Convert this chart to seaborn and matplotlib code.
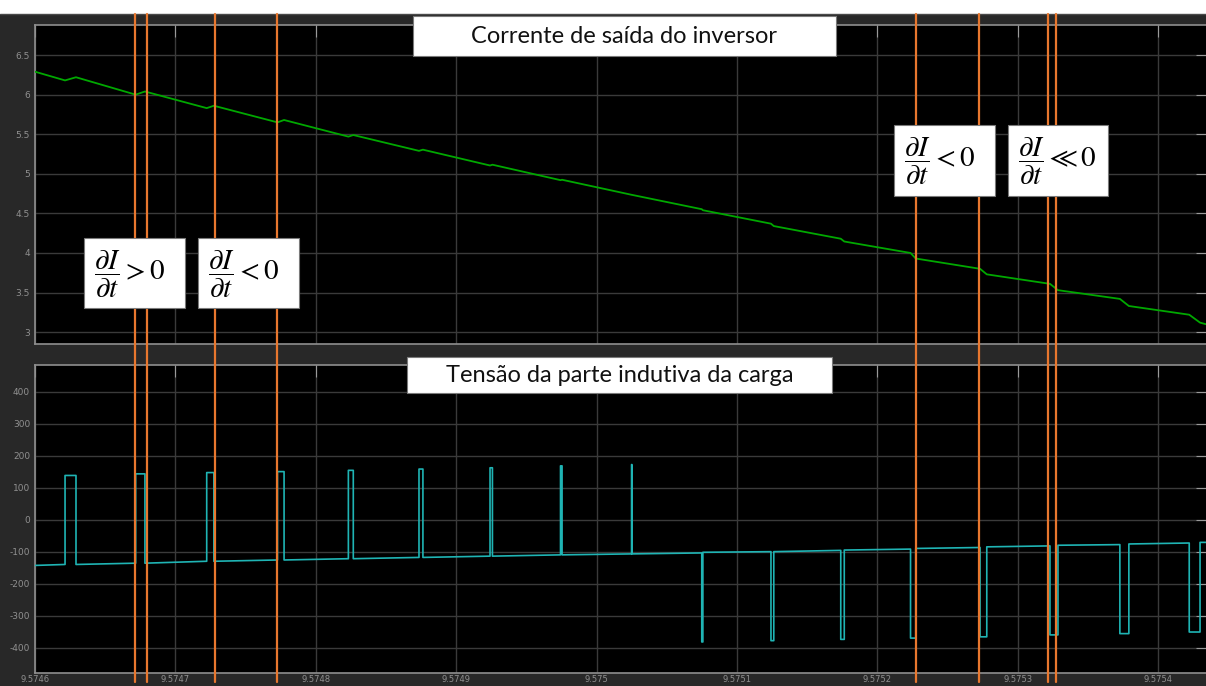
import matplotlib
matplotlib.use("Agg")
import matplotlib.pyplot as plt
import matplotlib.transforms as mtransforms
from matplotlib.patches import Rectangle
from matplotlib.lines import Line2D
import pandas as pd
import seaborn as sns

# ---------------- data ----------------
current_t = [9.5746000, 9.5746214, 9.5746292, 9.5746717, 9.5746783, 9.5747223, 9.5747274,
             9.5747727, 9.5747774, 9.5748232, 9.5748267, 9.5748735, 9.5748763, 9.5749241,
             9.5749258, 9.5749743, 9.5749754, 9.5750249, 9.5750749, 9.5750757, 9.5751242,
             9.5751262, 9.5751739, 9.5751764, 9.5752236, 9.5752273, 9.5752731, 9.5752779,
             9.5753229, 9.5753286, 9.5753727, 9.5753791, 9.5754221, 9.5754298, 9.5754340]
current_a = [6.29, 6.18, 6.22, 6.00, 6.04, 5.83, 5.86,
             5.65, 5.68, 5.47, 5.49, 5.29, 5.305, 5.105,
             5.115, 4.92, 4.925, 4.735, 4.553, 4.54, 4.37,
             4.34, 4.18, 4.145, 4.00, 3.93, 3.80, 3.73,
             3.61, 3.53, 3.42, 3.33, 3.22, 3.12, 3.10]

voltage_t = [9.5746000, 9.5746214, 9.5746214, 9.5746292, 9.5746292,
             9.5746717, 9.5746717, 9.5746783, 9.5746783,
             9.5747223, 9.5747223, 9.5747274, 9.5747274,
             9.5747727, 9.5747727, 9.5747774, 9.5747774,
             9.5748232, 9.5748232, 9.5748267, 9.5748267,
             9.5748735, 9.5748735, 9.5748763, 9.5748763,
             9.5749241, 9.5749241, 9.5749258, 9.5749258,
             9.5749743, 9.5749743, 9.5749754, 9.5749754,
             9.5750249, 9.5750249, 9.5750252, 9.5750252,
             9.5750749, 9.5750749, 9.5750757, 9.5750757,
             9.5751242, 9.5751242, 9.5751262, 9.5751262,
             9.5751739, 9.5751739, 9.5751764, 9.5751764,
             9.5752236, 9.5752236, 9.5752273, 9.5752273,
             9.5752731, 9.5752731, 9.5752779, 9.5752779,
             9.5753229, 9.5753229, 9.5753286, 9.5753286,
             9.5753727, 9.5753727, 9.5753791, 9.5753791,
             9.5754221, 9.5754221, 9.5754298, 9.5754298, 9.5754340]
voltage_v = [-143, -140, 138, 138, -140,
             -136, 143, 143, -136,
             -130, 147, 147, -130,
             -126, 150, 150, -126,
             -122, 154, 154, -122,
             -118, 158, 158, -118,
             -114, 162, 162, -114,
             -110, 168, 168, -110,
             -107, 172, 172, -107,
             -104, -382, -382, -102,
             -100, -378, -378, -100,
             -96, -374, -374, -95,
             -92, -370, -370, -90,
             -87, -366, -366, -85,
             -82, -360, -360, -80,
             -78, -356, -356, -76,
             -73, -351, -351, -71, -71]

marker_t = [9.5746712, 9.5746798, 9.5747282, 9.5747724,
            9.5752275, 9.5752724, 9.5753215, 9.5753272]

x_ticks = [9.5746, 9.5747, 9.5748, 9.5749, 9.5750, 9.5751, 9.5752, 9.5753, 9.5754]
x_tick_labels = ["9.5746", "9.5747", "9.5748", "9.5749", "9.575",
                 "9.5751", "9.5752", "9.5753", "9.5754"]
top_yticks = [3, 3.5, 4, 4.5, 5, 5.5, 6, 6.5]
top_ytick_labels = ["3", "3.5", "4", "4.5", "5", "5.5", "6", "6.5"]
bot_yticks = [-400, -300, -200, -100, 0, 100, 200, 300, 400]
bot_ytick_labels = ["-400", "-300", "-200", "-100", "0", "100", "200", "300", "400"]

top_title = "Corrente de saída do inversor"
bottom_title = "Tensão da parte indutiva da carga"
annotations = [r"$\dfrac{\partial I}{\partial t} > 0$",
               r"$\dfrac{\partial I}{\partial t} < 0$",
               r"$\dfrac{\partial I}{\partial t} < 0$",
               r"$\dfrac{\partial I}{\partial t} \ll 0$"]

# ---------------- style ----------------
sns.set_style("dark")
plt.rcParams["font.family"] = ["DejaVu Sans"]
plt.rcParams["axes.unicode_minus"] = False
plt.rcParams["mathtext.fontset"] = "stix"

W, H = 1206, 686
fig = plt.figure(figsize=(W / 100, H / 100), dpi=100, facecolor="#282828")

def fx(px):
    return px / W

def fy(py):
    return 1 - py / H

XMIN, XMAX = 9.5746, 9.57543547
ax_top = fig.add_axes([fx(35), fy(344), fx(1208) - fx(35), fy(25) - fy(344)])
ax_bot = fig.add_axes([fx(35), fy(673), fx(1208) - fx(35), fy(365) - fy(673)])

df_cur = pd.DataFrame({"t": current_t, "i": current_a})
df_vol = pd.DataFrame({"t": voltage_t, "v": voltage_v})
sns.lineplot(data=df_cur, x="t", y="i", ax=ax_top, sort=False, estimator=None,
             color="#00a800", linewidth=1.3, zorder=3)
sns.lineplot(data=df_vol, x="t", y="v", ax=ax_bot, sort=False, estimator=None,
             color="#1fb4b4", linewidth=1.2, zorder=3)

for ax, yt, ytl, ylim in [(ax_top, top_yticks, top_ytick_labels, (2.85, 6.88)),
                          (ax_bot, bot_yticks, bot_ytick_labels, (-479, 483))]:
    ax.set_facecolor("black")
    ax.set_xlim(XMIN, XMAX)
    ax.set_ylim(*ylim)
    ax.set_xticks(x_ticks)
    ax.set_yticks(yt)
    ax.set_yticklabels(ytl)
    ax.set_xlabel("")
    ax.set_ylabel("")
    ax.grid(True, color="#3a3a3a", linewidth=1.0)
    ax.set_axisbelow(True)
    for s in ax.spines.values():
        s.set_visible(True)
        s.set_color("#8f8f8f")
        s.set_linewidth(1.2)
    ax.tick_params(axis="both", which="both", direction="in", length=8.5, width=0.8,
                   color="#9a9a9a", labelcolor="#909090", labelsize=6.5,
                   top=True, right=True, pad=3.5)

ax_top.set_xticklabels([])
ax_bot.set_xticklabels(x_tick_labels)
ax_bot.tick_params(axis="x", pad=1.5, labelsize=6)

# white strip at top of the figure
fig.add_artist(Rectangle((0, fy(14)), 1, 1 - fy(14), transform=fig.transFigure,
                         facecolor="white", edgecolor="none", zorder=1))
fig.add_artist(Line2D([0, 1], [fy(14), fy(14)], transform=fig.transFigure,
                      color="#4a4a4a", linewidth=1.0, zorder=1))

# orange marker lines across both panels
blend = mtransforms.blended_transform_factory(ax_bot.transData, fig.transFigure)
for t in marker_t:
    fig.add_artist(Line2D([t, t], [fy(682), fy(14)], transform=blend,
                          color="#e8772e", linewidth=1.6, zorder=2))

def box(x0, y0, x1, y1):
    fig.add_artist(Rectangle((fx(x0), fy(y1)), fx(x1) - fx(x0), fy(y0) - fy(y1),
                             transform=fig.transFigure, facecolor="white",
                             edgecolor="#7a7a7a", linewidth=0.8, zorder=3))

# title boxes
box(413, 16, 836, 56)
fig.text(fx(624.5), fy(36.5), top_title, ha="center", va="center", fontsize=17,
         family=["Lato", "DejaVu Sans"], color="#111111", zorder=4)
box(407, 357, 832, 393)
fig.text(fx(619.5), fy(375.5), bottom_title, ha="center", va="center", fontsize=17,
         family=["Lato", "DejaVu Sans"], color="#111111", zorder=4)

# derivative boxes
math_boxes = [(84, 238, 185, 308), (198, 238, 299, 308),
              (894, 125, 995, 196), (1008, 125, 1108, 196)]
for (x0, y0, x1, y1), txt in zip(math_boxes, annotations):
    box(x0, y0, x1, y1)
    fig.text(fx(x0 + 10), fy((y0 + y1) / 2 + 1), txt, ha="left", va="center",
             fontsize=21, color="black", zorder=4)

fig.savefig("out.png", dpi=100, facecolor=fig.get_facecolor())
